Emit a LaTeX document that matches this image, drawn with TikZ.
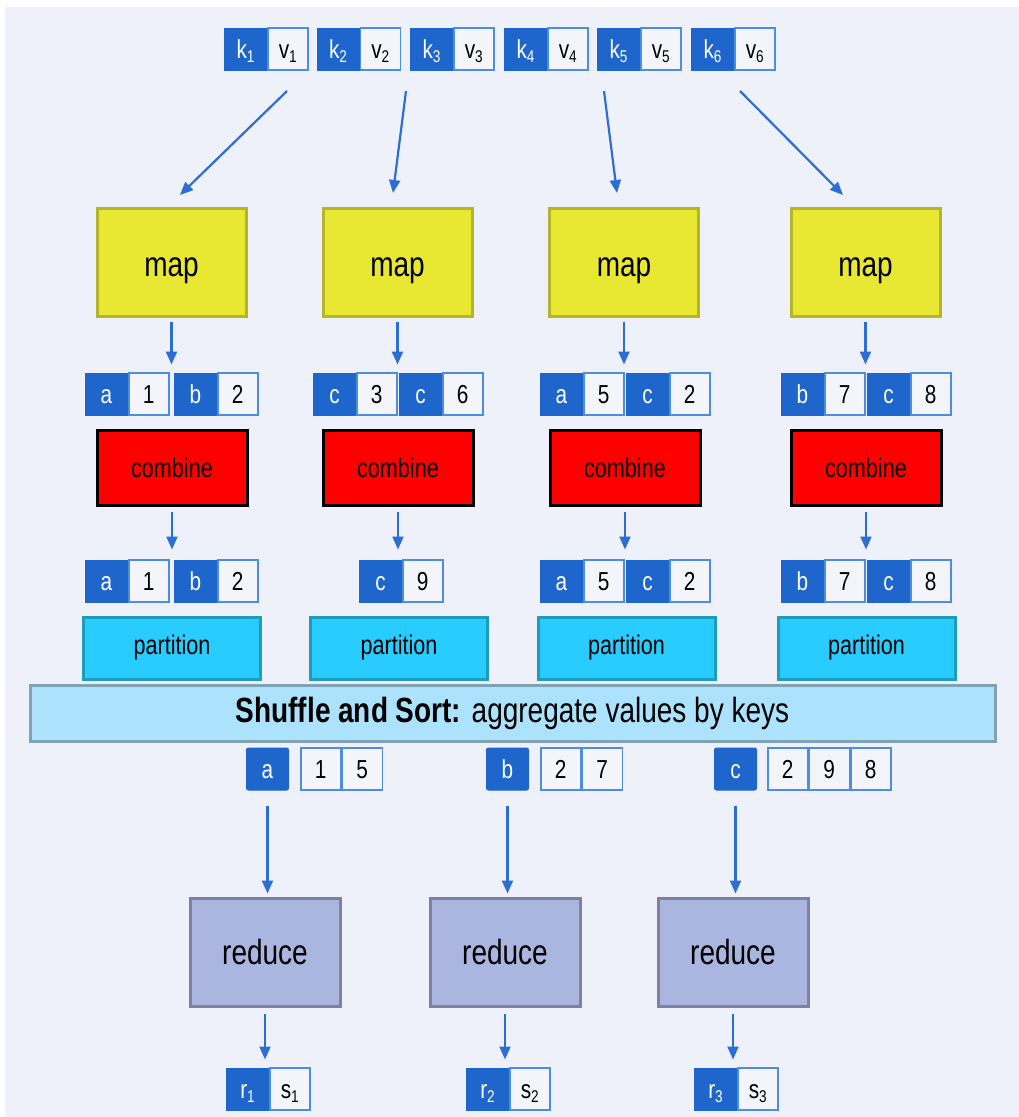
\documentclass[tikz,border=0pt]{standalone}
\usepackage{fontspec}
\setmainfont{Liberation Sans}[FakeStretch=0.8]
\usetikzlibrary{arrows.meta}
\definecolor{bgc}{HTML}{EEF1F9}
\definecolor{keyblue}{HTML}{1E66CC}
\definecolor{cellborder}{HTML}{4C8DE0}
\definecolor{cellfill}{HTML}{F3F5FA}
\definecolor{arrowc}{HTML}{2D6ED6}
\definecolor{mapfill}{HTML}{E8E833}
\definecolor{mapdraw}{HTML}{B5B52A}
\definecolor{partfill}{HTML}{28CCFF}
\definecolor{partdraw}{HTML}{1E9CC0}
\definecolor{shufill}{HTML}{ADE2FC}
\definecolor{shudraw}{HTML}{7FA2B5}
\definecolor{redfill}{HTML}{ABB6E0}
\definecolor{reddraw}{HTML}{7C82A0}
\newcommand\sbs[1]{\raisebox{-4pt}{\fontsize{17}{17}\selectfont #1}}
\newcommand\kvpair[5]{%
  \node[kcell] (#1k) at (#2,#3) {#4};
  \node[vcell] (#1v) at (#1k.east) {#5};}
\begin{document}
\begin{tikzpicture}[x=1pt,y=-1pt,
  cellfont/.style={font=\fontsize{26}{26}\selectfont, text height=18pt, text depth=0pt},
  kcell/.style={cellfont, fill=keyblue, draw=keyblue, line width=1pt, minimum width=42pt, minimum height=42pt, inner sep=0pt, text=white, anchor=west},
  vcell/.style={cellfont, fill=cellfill, draw=cellborder, line width=1.5pt, minimum width=40pt, minimum height=42pt, inner sep=0pt, text=black, anchor=west},
  keybox/.style={kcell, rounded corners=2pt, minimum width=42pt},
  mapbox/.style={fill=mapfill, draw=mapdraw, line width=3pt, minimum width=149pt, minimum height=108pt, inner sep=0pt, font=\fontsize{35}{35}\selectfont, text height=19pt, text depth=0pt},
  combox/.style={fill=red, draw=black, line width=3pt, minimum width=150pt, minimum height=75pt, inner sep=0pt, font=\fontsize{27}{27}\selectfont},
  partbox/.style={fill=partfill, draw=partdraw, line width=3pt, minimum width=177pt, minimum height=62pt, inner sep=0pt, font=\fontsize{27}{27}\selectfont},
  shubox/.style={fill=shufill, draw=shudraw, line width=3pt, minimum width=965pt, minimum height=56pt, inner sep=0pt, font=\fontsize{35}{35}\selectfont},
  redbox/.style={fill=redfill, draw=reddraw, line width=3pt, minimum width=150pt, minimum height=108pt, inner sep=0pt, font=\fontsize{35}{35}\selectfont},
  arr/.style={draw=arrowc, line width=2.2pt, -{Triangle[length=13pt,width=11pt]}}
]
\useasboundingbox (0,0) rectangle (1019,1117);
\fill[bgc] (5,7) rectangle (1019,1117);

% input pairs
\kvpair{i1}{224}{49}{k\sbs{1}}{v\sbs{1}}
\kvpair{i2}{316.5}{49}{k\sbs{2}}{v\sbs{2}}
\kvpair{i3}{410}{49}{k\sbs{3}}{v\sbs{3}}
\kvpair{i4}{504}{49}{k\sbs{4}}{v\sbs{4}}
\kvpair{i5}{597}{49}{k\sbs{5}}{v\sbs{5}}
\kvpair{i6}{691}{49}{k\sbs{6}}{v\sbs{6}}

% map boxes
\node[mapbox] (m1) at (171.5,262) {\raisebox{-5pt}{map}};
\node[mapbox] (m2) at (397.5,262) {\raisebox{-5pt}{map}};
\node[mapbox] (m3) at (624,262) {\raisebox{-5pt}{map}};
\node[mapbox] (m4) at (865.5,262) {\raisebox{-5pt}{map}};

\coordinate (s1) at (287,91); \coordinate (e1) at (180,195);
\coordinate (s2) at (406,91); \coordinate (e2) at (393,193);
\coordinate (s3) at (604,91); \coordinate (e3) at (617,193);
\coordinate (s4) at (740,91); \coordinate (e4) at (843,195);
\draw[arr] (s1) -- (e1);
\draw[arr] (s2) -- (e2);
\draw[arr] (s3) -- (e3);
\draw[arr] (s4) -- (e4);

% map outputs
\kvpair{a1}{85}{394}{a}{1}
\kvpair{a2}{174}{394}{b}{2}
\kvpair{b1}{313}{394}{c}{3}
\kvpair{b2}{399}{394}{c}{6}
\kvpair{c1}{540}{394}{a}{5}
\kvpair{c2}{626}{394}{c}{2}
\kvpair{d1}{781}{394}{b}{7}
\kvpair{d2}{867}{394}{c}{8}

\draw[arr, shorten <=4pt, shorten >=8pt] (m1.south) -- (m1.south |- a1k.north);
\draw[arr, shorten <=4pt, shorten >=8pt] (m2.south) -- (m2.south |- b1k.north);
\draw[arr, shorten <=4pt, shorten >=8pt] (m3.south) -- (m3.south |- c1k.north);
\draw[arr, shorten <=4pt, shorten >=8pt] (m4.south) -- (m4.south |- d1k.north);

% combine
\node[combox] (c1) at (172,467.5) {combine};
\node[combox] (c2) at (398,467.5) {combine};
\node[combox] (c3) at (625,467.5) {combine};
\node[combox] (c4) at (866,467.5) {combine};

% combine outputs
\kvpair{e1}{85}{581}{a}{1}
\kvpair{e2}{174}{581}{b}{2}
\kvpair{f1}{359}{581}{c}{9}
\kvpair{g1}{540}{581}{a}{5}
\kvpair{g2}{626}{581}{c}{2}
\kvpair{h1}{781}{581}{b}{7}
\kvpair{h2}{867}{581}{c}{8}

\draw[arr, shorten <=5pt, shorten >=10pt] (c1.south) -- (c1.south |- e1k.north);
\draw[arr, shorten <=5pt, shorten >=10pt] (c2.south) -- (c2.south |- f1k.north);
\draw[arr, shorten <=5pt, shorten >=10pt] (c3.south) -- (c3.south |- g1k.north);
\draw[arr, shorten <=5pt, shorten >=10pt] (c4.south) -- (c4.south |- h1k.north);

% partition
\node[partbox] (p1) at (172,648) {partition};
\node[partbox] (p2) at (399,648) {partition};
\node[partbox] (p3) at (626.5,648) {partition};
\node[partbox] (p4) at (866.5,648) {partition};

% shuffle
\node[shubox] (sh) at (512.5,713) {\textbf{Shuffle and Sort:} aggregate values by keys};

% grouped keys
\node[keybox] (ka) at (246,769) {a};
\node[vcell] (ka1) at (300,769) {1};
\node[vcell] (ka2) at (ka1.east) {5};
\node[keybox] (kb) at (486,769) {b};
\node[vcell] (kb1) at (540,769) {2};
\node[vcell] (kb2) at (kb1.east) {7};
\node[keybox] (kc) at (714,769) {c};
\node[vcell] (kc1) at (767,769) {2};
\node[vcell] (kc2) at (kc1.east) {9};
\node[vcell] (kc3) at (kc2.east) {8};

% reduce
\node[redbox] (r1) at (265,952) {reduce};
\node[redbox] (r2) at (505,952) {reduce};
\node[redbox] (r3) at (733,952) {reduce};

\draw[arr, shorten <=15pt, shorten >=3pt] (ka.south) -- (ka.south |- r1.north);
\draw[arr, shorten <=15pt, shorten >=3pt] (kb.south) -- (kb.south |- r2.north);
\draw[arr, shorten <=15pt, shorten >=3pt] (kc.south) -- (kc.south |- r3.north);

% outputs
\kvpair{o1}{226}{1089}{r\sbs{1}}{s\sbs{1}}
\kvpair{o2}{466}{1089}{r\sbs{2}}{s\sbs{2}}
\kvpair{o3}{694}{1089}{r\sbs{3}}{s\sbs{3}}

\draw[arr, shorten <=6pt, shorten >=8pt] (r1.south) -- (r1.south |- o1k.north);
\draw[arr, shorten <=6pt, shorten >=8pt] (r2.south) -- (r2.south |- o2k.north);
\draw[arr, shorten <=6pt, shorten >=8pt] (r3.south) -- (r3.south |- o3k.north);
\end{tikzpicture}
\end{document}
